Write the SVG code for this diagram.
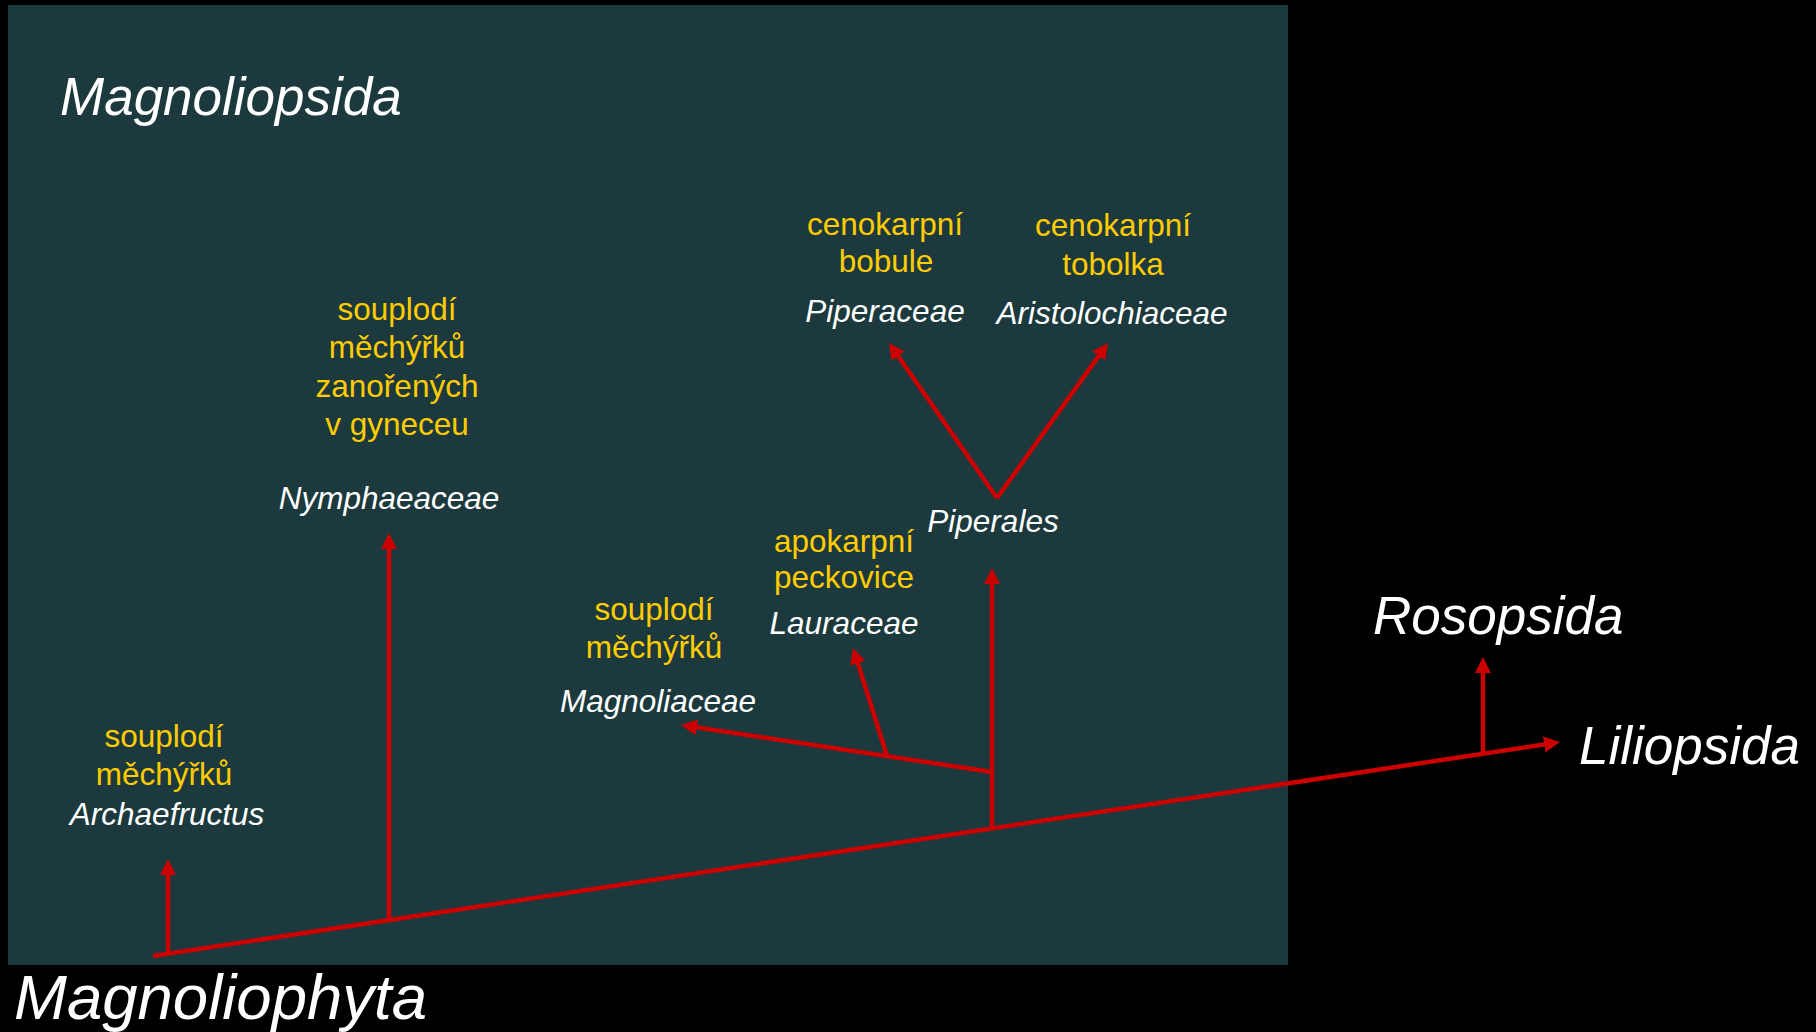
<svg xmlns="http://www.w3.org/2000/svg" width="1816" height="1032" viewBox="0 0 1816 1032">
<defs>
<style>
.y{font-family:"Liberation Sans",Arial,sans-serif;font-size:31.5px;fill:#ffcc00;text-anchor:middle}
.w{font-family:"Liberation Sans",Arial,sans-serif;font-size:31.5px;fill:#ffffff;font-style:italic;text-anchor:middle}
.big{font-family:"Liberation Sans",Arial,sans-serif;fill:#ffffff;font-style:italic}
.c{stroke:#cc0000;stroke-width:4.5;fill:none}
.a{marker-end:url(#ah)}
</style>
<marker id="ah" markerUnits="userSpaceOnUse" markerWidth="16" markerHeight="16" viewBox="0 0 16 16" refX="6" refY="8" orient="auto">
<path d="M0,0 L16,8 L0,16 z" fill="#cc0000"/>
</marker>
</defs>
<rect x="0" y="0" width="1816" height="1032" fill="#000000"/>
<rect id="panel" x="8" y="5" width="1280" height="960" fill="#1c3a3d"/>
<text class="big" x="60" y="115" font-size="53">Magnoliopsida</text>
<text class="big" x="14" y="1019" font-size="63.5">Magnoliophyta</text>
<g id="connectors">
<line class="c a" x1="153" y1="956" x2="1550.1" y2="743.5"/>
<line class="c a" x1="168" y1="954" x2="168" y2="869"/>
<line class="c a" x1="389" y1="921" x2="389" y2="543"/>
<line class="c a" x1="992" y1="829" x2="992" y2="578"/>
<line class="c a" x1="1483" y1="754" x2="1483" y2="667"/>
<line class="c a" x1="992" y1="772" x2="690.9" y2="726.5"/>
<line class="c a" x1="887" y1="756" x2="856" y2="657.5"/>
<line class="c a" x1="997" y1="498" x2="894.7" y2="351.2"/>
<line class="c a" x1="997" y1="498" x2="1102.2" y2="351.1"/>
</g>
<g id="archaefructus">
<text class="y" x="164" y="747">souplodí</text>
<text class="y" x="164" y="785">měchýřků</text>
<text class="w" x="167" y="825">Archaefructus</text>
</g>
<g id="nymphaeaceae">
<text class="y" x="397" y="320">souplodí</text>
<text class="y" x="397" y="358">měchýřků</text>
<text class="y" x="397" y="397">zanořených</text>
<text class="y" x="397" y="435">v gyneceu</text>
<text class="w" x="389" y="509">Nymphaeaceae</text>
</g>
<g id="magnoliaceae">
<text class="y" x="654" y="620">souplodí</text>
<text class="y" x="654" y="658">měchýřků</text>
<text class="w" x="658" y="712">Magnoliaceae</text>
</g>
<g id="lauraceae">
<text class="y" x="844" y="552">apokarpní</text>
<text class="y" x="844" y="588">peckovice</text>
<text class="w" x="844" y="634">Lauraceae</text>
</g>
<g id="piperales">
<text class="w" x="993" y="532">Piperales</text>
</g>
<g id="piperaceae">
<text class="y" x="885" y="235">cenokarpní</text>
<text class="y" x="886" y="272">bobule</text>
<text class="w" x="885" y="322">Piperaceae</text>
</g>
<g id="aristolochiaceae">
<text class="y" x="1113" y="236">cenokarpní</text>
<text class="y" x="1113" y="275">tobolka</text>
<text class="w" x="1112" y="324">Aristolochiaceae</text>
</g>
<g id="rosopsida">
<text class="big" x="1373" y="634" font-size="53">Rosopsida</text>
</g>
<g id="liliopsida">
<text class="big" x="1579" y="764" font-size="53">Liliopsida</text>
</g>
</svg>
